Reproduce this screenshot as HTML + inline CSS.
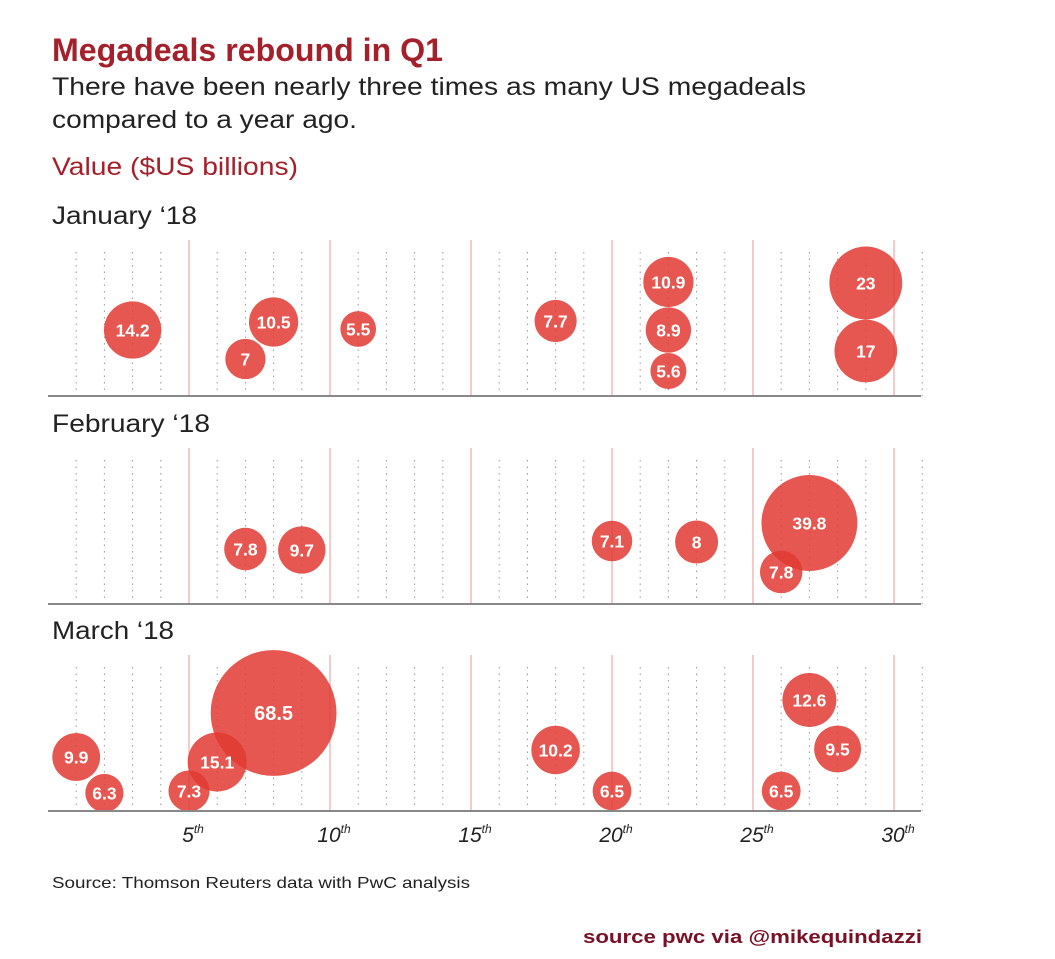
<!DOCTYPE html>
<html><head><meta charset="utf-8">
<style>
body{margin:0;background:#fff;width:1055px;height:959px;overflow:hidden;font-family:"Liberation Sans",Arial,sans-serif;}
svg{position:absolute;left:0;top:0}
</style></head>
<body>
<svg id="chart" width="1055" height="959">
<text x="52" y="61" font-size="32" font-weight="bold" fill="#a4202a" textLength="391" lengthAdjust="spacingAndGlyphs">Megadeals rebound in Q1</text>
<text x="52" y="95" font-size="25" fill="#222" textLength="754" lengthAdjust="spacingAndGlyphs">There have been nearly three times as many US megadeals</text>
<text x="52" y="128" font-size="25" fill="#222" textLength="305" lengthAdjust="spacingAndGlyphs">compared to a year ago.</text>
<text x="52" y="175" font-size="25" fill="#a4202a" textLength="246" lengthAdjust="spacingAndGlyphs">Value ($US billions)</text>
<text x="52" y="888" font-size="16" fill="#222" textLength="418" lengthAdjust="spacingAndGlyphs">Source: Thomson Reuters data with PwC analysis</text>
<text x="922" y="943" font-size="18" font-weight="bold" fill="#7a1025" text-anchor="end" textLength="339" lengthAdjust="spacingAndGlyphs">source pwc via @mikequindazzi</text>
<g id="grid"></g><g id="bubbles"></g><g id="axis"></g>
</svg>
<script>
const months=["January ‘18","February ‘18","March ‘18"];
const monthW=[145,158,122];
const janDays=[3,8,7,11,18,22,22,22,29,29];
const janVals=[14.2,10.5,7,5.5,7.7,10.9,8.9,5.6,23,17];
const janY=[66,74,37,67,75,114,66,25,113,45];
const febDays=[7,9,20,23,27,26];
const febVals=[7.8,9.7,7.1,8,39.8,7.8];
const febY=[55,54,63,62,81,32];
const marDays=[1,2,5,6,8,18,20,27,28,26];
const marVals=[9.9,6.3,7.3,15.1,68.5,10.2,6.5,12.6,9.5,6.5];
const marY=[54,18,20,49,98,61,20,111,62,20];
const tickDays=[5,10,15,20,25,30];
const days=[janDays,febDays,marDays],vals=[janVals,febVals,marVals],ys=[janY,febY,marY];
const baselines=[396,604,811];
const NS="http://www.w3.org/2000/svg";
const xS=d=>48+28.2*d;
const yS=(p,v)=>baselines[p]-v;
const rS=v=>7.6*Math.sqrt(v);
function mk(t,a,parent){const e=document.createElementNS(NS,t);for(const k in a)e.setAttribute(k,a[k]);parent.appendChild(e);return e;}
const grid=document.getElementById('grid'),bub=document.getElementById('bubbles'),axis=document.getElementById('axis');
for(let p=0;p<3;p++){
  const b=baselines[p];
  const lbl=mk('text',{x:52,y:b-172,'font-size':25,fill:'#222',textLength:monthW[p],lengthAdjust:'spacingAndGlyphs'},grid);lbl.textContent=months[p];
  
  
  for(let d=1;d<=31;d++){
    if(d%5===0&&d<=30){
      const l=mk('line',{x1:xS(d),x2:xS(d),y1:b-156,y2:b,stroke:'#f2b8b8','stroke-width':1.5},grid);
      
      
    }else{
      const l=mk('line',{x1:xS(d),x2:xS(d),y1:b-144,y2:b,stroke:'#999','stroke-width':1,'stroke-dasharray':'1.5,5'},grid);
      
      
    }
  }
  const base=mk('line',{x1:48,x2:921,y1:b,y2:b,stroke:'#888','stroke-width':2},axis);
  
  
  for(let i=0;i<days[p].length;i++){
    const cx=xS(days[p][i]),cy=yS(p,ys[p][i]),r=rS(vals[p][i]);
    const c=mk('circle',{cx:cx,cy:cy,r:r,fill:'#e03a31','fill-opacity':0.85},bub);
    
    
  }
  for(let i=0;i<days[p].length;i++){
    const fs=vals[p][i]>50?20:17.5;
    const t=mk('text',{x:xS(days[p][i]),y:yS(p,ys[p][i])+fs*0.36,'font-size':fs,'font-weight':'bold',fill:'#fff','text-anchor':'middle'},bub);
    t.textContent=vals[p][i];
    
    
  }
}
tickDays.forEach(d=>{
  const t=mk('text',{x:xS(d)+4,y:842,'font-size':21,'font-style':'italic',fill:'#222','text-anchor':'middle'},axis);
  t.innerHTML=d+'<tspan font-size="12" dy="-9">th</tspan>';
  
  
});
</script>
</body></html>
